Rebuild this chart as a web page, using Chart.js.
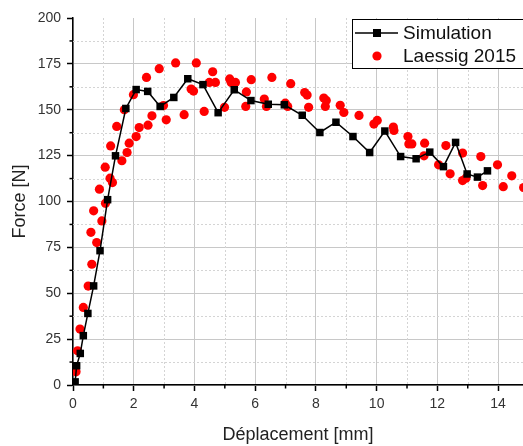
<!DOCTYPE html>
<html>
<head>
<meta charset="utf-8">
<script src="https://cdn.jsdelivr.net/npm/chart.js@4"></script>
<style>
  html, body { margin: 0; padding: 0; background: #fff; }
</style>
</head>
<body>
<canvas id="chart" width="523" height="446"></canvas>
<script>
// Simulation curve
const simX = [0.07, 0.12, 0.24, 0.34, 0.49, 0.68, 0.89, 1.14, 1.40, 1.74, 2.08, 2.46, 2.87, 3.32, 3.78, 4.28, 4.78,
  5.31, 5.86, 6.43, 6.96, 7.55, 8.13, 8.66, 9.22, 9.77, 10.27, 10.79, 11.30, 11.75, 12.20, 12.60, 12.98, 13.32, 13.65];
const simY = [1.7, 10.5, 17.2, 26.9, 39, 54, 73.2, 101, 124.9, 150.7, 161, 160, 151.8, 156.7, 166.9, 163.7, 148.4,
  160.9, 155, 153, 152.7, 147, 137.6, 143.2, 135.4, 126.7, 138.4, 124.5, 123.3, 126.9, 119, 132.2, 115, 113.3, 116.7];

// Laessig 2015 experiment
const expX = [0.10, 0.15, 0.23, 0.34, 0.50, 0.62, 0.78, 0.59, 0.95, 0.68, 1.07, 0.87, 1.30, 1.22, 1.06, 1.61, 1.78,
  1.24, 1.85, 2.08, 2.18, 1.44, 2.47, 3.07, 2.60, 3.66, 4.32, 1.69, 4.99, 2.98, 5.69, 6.37, 7.07, 7.76, 8.31, 8.80,
  6.30, 6.99, 8.34, 8.26, 7.71, 7.63, 1.99, 5.71, 3.97, 3.89, 7.17, 4.49, 4.69, 5.21, 5.35, 5.87, 5.16, 2.42, 6.55,
  4.60, 2.84, 3.38, 4.06, 8.92, 9.42, 9.91, 10.02, 10.55, 10.57, 11.03, 11.06, 11.16, 11.58, 11.56, 12.04, 12.28,
  12.42, 12.83, 12.83, 12.94, 13.43, 13.49, 13.98, 14.17, 14.45, 14.84];
const expY = [7.2, 18.6, 30.5, 42.3, 53.9, 65.8, 77.6, 83.2, 89.4, 94.9, 99, 106.7, 110.3, 112.7, 118.7, 122.2, 126.7,
  130.3, 131.8, 135.4, 140.3, 140.9, 141.6, 144.5, 146.7, 147.3, 149.1, 150, 151.3, 152.3, 151.8, 151.8, 151.8, 151.3, 151.8, 152.4,
  155.8, 153.6, 155.1, 156.4, 158, 159.4, 158.2, 159.7, 160.2, 161.3, 164.2, 164.9, 164.9, 164.9, 164.9, 166.4, 166.8, 167.6, 167.6,
  170.7, 172.4, 175.5, 175.5, 148.5, 146.9, 142.2, 144.2, 140.6, 138.7, 135.4, 131.4, 131.4, 131.8, 124.9, 120, 130.5,
  115.1, 126.4, 111.4, 112.7, 124.5, 108.7, 120, 108.1, 114, 107.6];

const xTicks = [0, 2, 4, 6, 8, 10, 12, 14];
const yTicks = [0, 25, 50, 75, 100, 125, 150, 175, 200];
const xMinor = [1, 3, 5, 7, 9, 11, 13];
const yMinor = [12.5, 37.5, 62.5, 87.5, 112.5, 137.5, 162.5, 187.5];

const toPoints = (xs, ys) => xs.map((x, i) => ({ x: x, y: ys[i] }));
const FONT = "'Liberation Sans', Arial, sans-serif";

// dotted minor grid + short minor tick marks
const minorGrid = {
  id: "minorGrid",
  beforeDatasetsDraw(chart) {
    const { ctx, chartArea: a, scales: { x, y } } = chart;
    ctx.save();
    ctx.strokeStyle = "#d4d4d4";
    ctx.lineWidth = 1;
    ctx.setLineDash([2, 2]);
    xMinor.forEach(v => {
      const px = Math.round(x.getPixelForValue(v)) + 0.5;
      ctx.beginPath(); ctx.moveTo(px, a.top); ctx.lineTo(px, a.bottom); ctx.stroke();
    });
    yMinor.forEach(v => {
      const py = Math.round(y.getPixelForValue(v)) + 0.5;
      ctx.beginPath(); ctx.moveTo(a.left, py); ctx.lineTo(a.right, py); ctx.stroke();
    });
    ctx.setLineDash([]);
    ctx.strokeStyle = "#000";
    ctx.lineWidth = 1.5;
    xMinor.forEach(v => {
      const px = x.getPixelForValue(v);
      ctx.beginPath(); ctx.moveTo(px, a.bottom); ctx.lineTo(px, a.bottom + 3.5); ctx.stroke();
    });
    yMinor.forEach(v => {
      const py = y.getPixelForValue(v);
      ctx.beginPath(); ctx.moveTo(a.left - 3.5, py); ctx.lineTo(a.left, py); ctx.stroke();
    });
    ctx.restore();
  }
};

// boxed legend inside the plot, top right
const boxLegend = {
  id: "boxLegend",
  afterDraw(chart) {
    const ctx = chart.ctx;
    const ds = chart.data.datasets;
    ctx.save();
    ctx.fillStyle = "#fff";
    ctx.strokeStyle = "#000";
    ctx.lineWidth = 1;
    ctx.fillRect(352.5, 19.5, 180, 49);
    ctx.strokeRect(352.5, 19.5, 180, 49);

    ctx.strokeStyle = ds[0].borderColor;
    ctx.lineWidth = 1.5;
    ctx.beginPath(); ctx.moveTo(355, 33); ctx.lineTo(398, 33); ctx.stroke();
    ctx.fillStyle = ds[0].backgroundColor;
    ctx.fillRect(373, 29, 8, 8);

    ctx.fillStyle = ds[1].backgroundColor;
    ctx.beginPath(); ctx.arc(377, 56, 4.6, 0, Math.PI * 2); ctx.fill();

    ctx.fillStyle = "#111";
    ctx.font = "19px " + FONT;
    ctx.textBaseline = "middle";
    ctx.fillText(ds[0].label, 403, 34);
    ctx.fillText(ds[1].label, 403, 57);
    ctx.restore();
  }
};

const ctx = document.getElementById("chart").getContext("2d");

new Chart(ctx, {
  type: "scatter",
  data: {
    datasets: [
      {
        label: "Simulation",
        data: toPoints(simX, simY),
        showLine: true,
        borderColor: "#000",
        backgroundColor: "#000",
        borderWidth: 1.5,
        pointStyle: "rect",
        pointRadius: 5.3,
        pointBorderWidth: 0,
      },
      {
        label: "Laessig 2015",
        data: toPoints(expX, expY),
        showLine: false,
        borderColor: "#ff0000",
        backgroundColor: "#ff0000",
        pointStyle: "circle",
        pointRadius: 4.6,
        pointBorderWidth: 0,
      },
    ],
  },
  options: {
    responsive: false,
    animation: false,
    layout: { autoPadding: false, padding: { top: 18, right: 0, left: 0, bottom: 0 } },
    plugins: {
      legend: { display: false },
      tooltip: { enabled: false },
    },
    scales: {
      x: {
        type: "linear",
        min: 0,
        max: 14.82,
        afterBuildTicks: s => { s.ticks = xTicks.map(v => ({ value: v })); },
        afterFit: s => { s.height = 61; },
        border: { color: "#000", width: 1.5 },
        grid: { color: "#c8c8c8", lineWidth: 1, tickColor: "#000", tickLength: 6, tickWidth: 1.5 },
        ticks: { color: "#333", padding: 5, font: { family: FONT, size: 14 } },
        title: {
          display: true,
          text: "Déplacement [mm]",
          color: "#222",
          padding: { top: 0, bottom: 0 },
          font: { family: FONT, size: 18 },
        },
      },
      y: {
        min: 0,
        max: 200,
        afterBuildTicks: s => { s.ticks = yTicks.map(v => ({ value: v })); },
        afterFit: s => { s.width = 73; },
        border: { color: "#000", width: 1.5 },
        grid: {
          color: c => (c.tick && c.tick.value === 200 ? "rgba(0,0,0,0)" : "#c8c8c8"),
          lineWidth: 1,
          tickColor: "#000",
          tickLength: 6,
          tickWidth: 1.5,
        },
        ticks: { color: "#333", padding: 6, font: { family: FONT, size: 14 } },
        title: {
          display: true,
          text: "Force [N]",
          color: "#222",
          padding: { top: 9, bottom: 0 },
          font: { family: FONT, size: 18 },
        },
      },
    },
  },
  plugins: [minorGrid, boxLegend],
});
</script>
</body>
</html>
